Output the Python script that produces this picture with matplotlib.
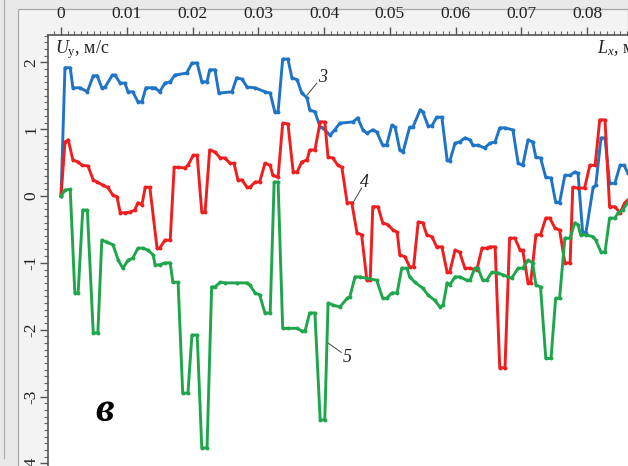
import matplotlib
matplotlib.use("Agg")
import matplotlib.pyplot as plt
from matplotlib.ticker import MultipleLocator, FixedLocator, FuncFormatter
from matplotlib.patches import Rectangle

plt.rcParams['font.family'] = ['Liberation Serif', 'DejaVu Serif']
plt.rcParams['mathtext.fontset'] = 'custom'
plt.rcParams['mathtext.rm'] = 'Liberation Serif'
plt.rcParams['mathtext.it'] = 'Liberation Serif:italic'
plt.rcParams['axes.unicode_minus'] = False

# ---- data (Lx in m, Uy in m/s) ----
x3 = [0, 0.0006, 0.0014, 0.0018, 0.0029, 0.0040, 0.0049, 0.0055, 0.0062, 0.0067,
      0.0078, 0.0082, 0.0090, 0.0097, 0.0102, 0.0109, 0.0117, 0.0123, 0.0129, 0.0138,
      0.0143, 0.0150, 0.0158, 0.0166, 0.0173, 0.0191, 0.0199, 0.0207, 0.0214, 0.0222,
      0.0226, 0.0234, 0.0240, 0.0260, 0.0267, 0.0275, 0.0283, 0.0295, 0.0310, 0.0318,
      0.0325, 0.0330, 0.0337, 0.0345, 0.0351, 0.0359, 0.0366, 0.0374, 0.0378, 0.0386,
      0.0394, 0.0398, 0.0409, 0.0416, 0.0424, 0.0444, 0.0451, 0.0459, 0.0465, 0.0474,
      0.0480, 0.0489, 0.0495, 0.0503, 0.0508, 0.0515, 0.0520, 0.0530, 0.0535, 0.0546,
      0.0550, 0.0558, 0.0564, 0.0571, 0.0579, 0.0587, 0.0591, 0.0599, 0.0606, 0.0614,
      0.0622, 0.0626, 0.0634, 0.0644, 0.0652, 0.0660, 0.0667, 0.0675, 0.0687, 0.0695,
      0.0702, 0.0710, 0.0717, 0.0722, 0.0729, 0.0737, 0.0745, 0.0752, 0.0758, 0.0766,
      0.0774, 0.0781, 0.0786, 0.0793, 0.0798, 0.0809, 0.0813, 0.0821, 0.0827, 0.0834,
      0.0842, 0.0850, 0.0856, 0.0862]
u3 = [0, 1.92, 1.92, 1.62, 1.62, 1.56, 1.80, 1.80, 1.62, 1.63,
      1.81, 1.81, 1.69, 1.69, 1.56, 1.56, 1.41, 1.41, 1.62, 1.62,
      1.62, 1.56, 1.69, 1.71, 1.81, 1.84, 1.99, 1.99, 1.71, 1.71,
      1.89, 1.89, 1.54, 1.56, 1.77, 1.75, 1.63, 1.62, 1.56, 1.54,
      1.26, 1.26, 2.05, 2.05, 1.77, 1.74, 1.54, 1.47, 1.29, 1.26,
      1.03, 1.02, 0.91, 0.99, 1.09, 1.11, 1.17, 0.99, 0.94, 0.99,
      0.96, 0.76, 0.76, 1.06, 1.03, 0.69, 0.66, 1.03, 1.03, 1.29,
      1.26, 1.05, 1.05, 1.18, 1.18, 0.54, 0.52, 0.79, 0.81, 0.87,
      0.84, 0.76, 0.76, 0.72, 0.79, 0.81, 1.02, 1.02, 0.99, 0.49,
      0.46, 0.84, 0.81, 0.58, 0.57, 0.28, 0.27, -0.09, -0.10, 0.31,
      0.31, 0.36, 0.34, -0.54, -0.55, 0.13, 0.16, 0.87, 0.87, 0.19,
      0.19, 0.46, 0.46, 0.34]

x4 = [0, 0.0006, 0.0011, 0.0018, 0.0026, 0.0032, 0.0041, 0.0049, 0.0055, 0.0064,
      0.0071, 0.0079, 0.0085, 0.0090, 0.0097, 0.0105, 0.0112, 0.0117, 0.0123, 0.0128,
      0.0135, 0.0146, 0.0150, 0.0158, 0.0166, 0.0172, 0.0178, 0.0188, 0.0193, 0.0201,
      0.0207, 0.0214, 0.0219, 0.0226, 0.0234, 0.0242, 0.0249, 0.0257, 0.0263, 0.0269,
      0.0275, 0.0283, 0.0287, 0.0295, 0.0302, 0.0310, 0.0318, 0.0322, 0.0330, 0.0337,
      0.0345, 0.0353, 0.0359, 0.0366, 0.0374, 0.0378, 0.0386, 0.0394, 0.0401, 0.0406,
      0.0413, 0.0421, 0.0427, 0.0435, 0.0442, 0.0450, 0.0457, 0.0465, 0.0470, 0.0474,
      0.0482, 0.0489, 0.0497, 0.0505, 0.0511, 0.0515, 0.0523, 0.0530, 0.0536, 0.0543,
      0.0550, 0.0556, 0.0564, 0.0571, 0.0579, 0.0587, 0.0591, 0.0599, 0.0606, 0.0614,
      0.0622, 0.0632, 0.0640, 0.0647, 0.0652, 0.0660, 0.0667, 0.0675, 0.0682, 0.0690,
      0.0698, 0.0702, 0.0710, 0.0714, 0.0722, 0.0729, 0.0737, 0.0743, 0.0751, 0.0758,
      0.0766, 0.0774, 0.0778, 0.0786, 0.0796, 0.0804, 0.0812, 0.0819, 0.0827, 0.0834,
      0.0842, 0.0850, 0.0857, 0.0862]
u4 = [0, 0.81, 0.84, 0.54, 0.51, 0.46, 0.45, 0.24, 0.21, 0.16,
      0.13, 0.01, -0.01, -0.25, -0.25, -0.24, -0.21, -0.10, -0.13, 0.13,
      0.13, -0.78, -0.78, -0.66, -0.66, 0.43, 0.43, 0.42, 0.46, 0.61,
      0.61, -0.24, -0.24, 0.69, 0.66, 0.57, 0.57, 0.49, 0.49, 0.24,
      0.24, 0.13, 0.13, 0.21, 0.21, 0.49, 0.46, 0.31, 0.28, 1.09,
      1.08, 0.36, 0.36, 0.51, 0.54, 0.69, 0.69, 1.11, 1.11, 0.58,
      0.57, 0.46, 0.43, -0.10, -0.10, -0.55, -0.58, -1.26, -1.26, -0.16,
      -0.16, -0.40, -0.43, -0.51, -0.54, -0.88, -0.91, -1.06, -1.06, -0.39,
      -0.40, -0.58, -0.61, -0.76, -0.76, -1.14, -1.14, -0.81, -0.84, -1.08,
      -1.08, -1.11, -0.78, -0.78, -0.76, -0.76, -2.57, -2.57, -0.63, -0.63,
      -0.81, -0.81, -1.30, -1.30, -0.58, -0.58, -0.33, -0.33, -0.48, -0.51,
      -1.00, -1.00, 0.13, 0.12, 0.12, 0.46, 0.46, 1.14, 1.14, -0.16,
      -0.16, -0.25, -0.10, -0.06]

x5 = [0, 0.0006, 0.0014, 0.0021, 0.0026, 0.0033, 0.0040, 0.0049, 0.0056, 0.0062,
      0.0070, 0.0079, 0.0087, 0.0094, 0.0102, 0.0109, 0.0117, 0.0125, 0.0132, 0.0140,
      0.0143, 0.0150, 0.0158, 0.0166, 0.0170, 0.0178, 0.0185, 0.0193, 0.0199, 0.0207,
      0.0214, 0.0222, 0.0229, 0.0234, 0.0242, 0.0249, 0.0267, 0.0283, 0.0287, 0.0295,
      0.0302, 0.0310, 0.0318, 0.0324, 0.0330, 0.0337, 0.0345, 0.0359, 0.0366, 0.0371,
      0.0378, 0.0386, 0.0394, 0.0401, 0.0406, 0.0413, 0.0424, 0.0435, 0.0439, 0.0447,
      0.0454, 0.0480, 0.0489, 0.0495, 0.0503, 0.0511, 0.0518, 0.0526, 0.0530, 0.0538,
      0.0550, 0.0558, 0.0568, 0.0576, 0.0581, 0.0587, 0.0591, 0.0599, 0.0606, 0.0617,
      0.0622, 0.0629, 0.0634, 0.0641, 0.0647, 0.0655, 0.0664, 0.0672, 0.0685, 0.0695,
      0.0702, 0.0710, 0.0717, 0.0722, 0.0729, 0.0737, 0.0745, 0.0752, 0.0758, 0.0766,
      0.0774, 0.0781, 0.0786, 0.0790, 0.0798, 0.0809, 0.0813, 0.0821, 0.0827, 0.0834,
      0.0842, 0.0847, 0.0854, 0.0862]
u5 = [0, 0.09, 0.10, -1.45, -1.45, -0.21, -0.21, -2.05, -2.05, -0.66,
      -0.69, -0.73, -0.96, -1.08, -0.96, -0.93, -0.78, -0.78, -0.81, -0.88,
      -1.03, -1.03, -1.00, -1.00, -1.29, -1.29, -2.95, -2.95, -2.08, -2.08,
      -3.77, -3.77, -1.36, -1.36, -1.29, -1.30, -1.30, -1.30, -1.33, -1.45,
      -1.48, -1.75, -1.75, 0.21, 0.21, -1.98, -1.98, -1.98, -2.02, -2.02,
      -1.75, -1.75, -3.35, -3.35, -1.60, -1.63, -1.66, -1.53, -1.51, -1.21,
      -1.21, -1.26, -1.53, -1.53, -1.45, -1.45, -1.08, -1.08, -1.21, -1.29,
      -1.38, -1.48, -1.56, -1.66, -1.63, -1.30, -1.33, -1.21, -1.21, -1.26,
      -1.26, -1.08, -1.08, -1.26, -1.26, -1.14, -1.15, -1.18, -1.23, -1.08,
      -1.08, -0.96, -1.00, -1.33, -1.36, -2.43, -2.43, -1.53, -1.53, -0.63,
      -0.63, -0.40, -0.43, -0.58, -0.58, -0.61, -0.66, -0.84, -0.84, -0.33,
      -0.33, -0.25, -0.21, -0.09]

x_ticks = [0, 0.01, 0.02, 0.03, 0.04, 0.05, 0.06, 0.07, 0.08]
y_ticks = [-4, -3, -2, -1, 0, 1, 2]

series_names = ["3", "4", "5"]
colors = ["#1f74c6", "#f01e1e", "#1fa64c"]

# ---- figure ----
W, H = 628, 466
fig = plt.figure(figsize=(W / 100, H / 100), dpi=100)
fig.patch.set_facecolor("#e9e9e9")

# background panel frame drawn in its own axes underneath
bg = fig.add_axes([0, 0, 1, 1], zorder=-5)
bg.set_xlim(0, W)
bg.set_ylim(H, 0)
bg.axis("off")
bg.add_patch(Rectangle((18, 9), W - 18, H, facecolor="#f3f3f3", edgecolor="#a8a8a8", lw=0.9))
bg.plot([4, 4], [0, 458], color="#b0b0b0", lw=0.9)

ax = fig.add_axes([48 / W, 0, (W - 48) / W, (H - 35) / H], zorder=1)
ax.set_facecolor("white")

for xs, us, c in zip([x3, x4, x5], [u3, u4, u5], colors):
    ax.plot(xs, us, color=c, lw=2.1, marker="o", ms=2.8, mew=0, solid_joinstyle="round")

ax.set_xlim(-0.00198, 0.0862)
ax.set_ylim(-4.04, 2.41)

ax.xaxis.tick_top()
ax.xaxis.set_major_locator(FixedLocator(x_ticks))
ax.xaxis.set_minor_locator(MultipleLocator(0.001))
ax.xaxis.set_major_formatter(FuncFormatter(lambda v, p: "0" if abs(v) < 1e-9 else f"{v:.2f}"))
ax.yaxis.set_major_locator(FixedLocator(y_ticks))
ax.yaxis.set_minor_locator(MultipleLocator(0.1))
ax.yaxis.set_major_formatter(FuncFormatter(lambda v, p: f"{int(round(v))}"))

ax.tick_params(axis="both", which="major", direction="out", length=6, width=1.0,
               color="#555555", labelsize=12.5, labelcolor="#222222")
ax.tick_params(axis="both", which="minor", direction="out", length=3, width=0.8, color="#666666")
ax.tick_params(axis="x", which="major", pad=3)
ax.tick_params(axis="y", which="major", pad=0)
for lab in ax.get_yticklabels():
    lab.set_rotation(90)
    lab.set_va("center")

for s in ["right", "bottom"]:
    ax.spines[s].set_visible(False)
for s in ["top", "left"]:
    ax.spines[s].set_color("#555555")
    ax.spines[s].set_linewidth(1.2)

# axis titles
fig.text(55 / W, 1 - 53 / H, r"$U_{\mathrm{y}}$, м/с", fontsize=13, color="#222222",
         va="baseline", zorder=5)
fig.text(597 / W, 1 - 53 / H, r"$L_{x}$, м", fontsize=13, color="#222222",
         va="baseline", zorder=5)

# curve labels with leader lines
lab_pos = [(0.0397, 1.78), (0.0462, 0.21), (0.0435, -2.41)]
lead = [((0.0374, 1.51), (0.0389, 1.69)),
        ((0.0444, -0.10), (0.0457, 0.12)),
        ((0.0406, -2.20), (0.0426, -2.34))]
for name, (lx, ly), ((ax0, ay0), (ax1, ay1)) in zip(series_names, lab_pos, lead):
    ax.plot([ax0, ax1], [ay0, ay1], color="#444444", lw=0.7)
    ax.text(lx, ly, name, fontsize=13, style="italic", color="#222222", ha="center", va="center")

fig.text(105 / W, 1 - 411 / H, "в", fontsize=30, fontweight="bold", family="Liberation Serif",
         style="italic", ha="center", va="center", color="black", zorder=5)

fig.savefig("out.png", dpi=100, facecolor=fig.get_facecolor())
